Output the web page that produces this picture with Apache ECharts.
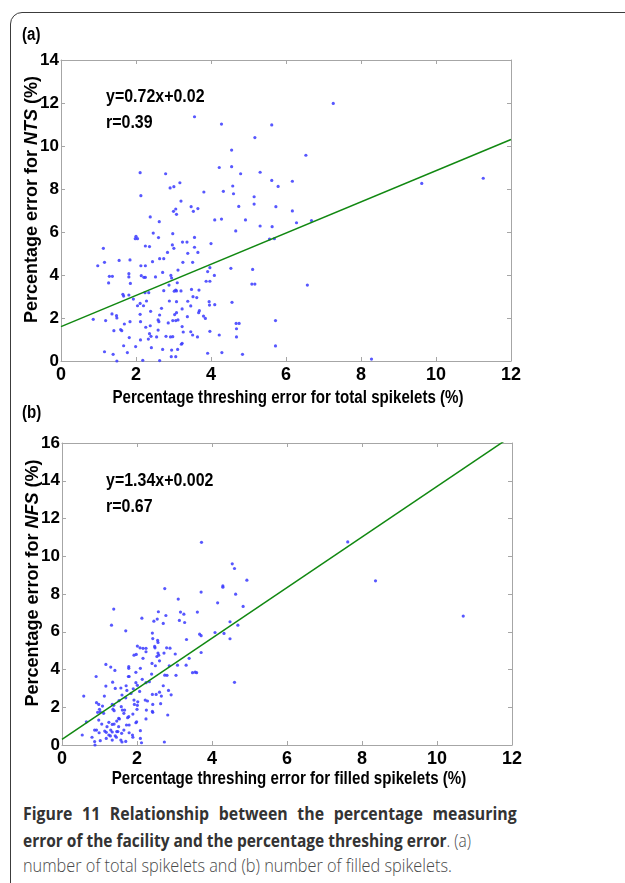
<!DOCTYPE html>
<html>
<head>
<meta charset="utf-8">
<script src="https://cdn.jsdelivr.net/npm/echarts@6/dist/echarts.min.js"></script>
<style>
  html, body { margin: 0; padding: 0; background: #fff; overflow: hidden; }
  .page { position: relative; width: 625px; height: 883px; overflow: hidden; }
  .frame {
    position: absolute; left: 10px; top: 12px; width: 700px; height: 1000px;
    border: 1.5px solid #3c3c3c; border-radius: 12px; box-sizing: border-box;
  }
  #chart { position: absolute; left: 0; top: 0; width: 625px; height: 800px; }
  .cap {
    position: absolute; left: 23px; font-family: 'Open Sans', sans-serif; font-size: 18px;
    white-space: nowrap; line-height: 24px; transform-origin: 0 0;
  }
  .cap b { color: #333; font-weight: bold; }
  .cap span { color: #4a4a4a; font-weight: 300; }
  .l1 { top: 801px; width: 561px; text-align: justify; text-align-last: justify; white-space: normal; transform: scaleX(0.88); }
  .l2 { top: 828px; transform: scaleX(0.86); }
  .l3 { top: 853px; transform: scaleX(0.905); }
</style>
</head>
<body>
<div class="page">
  <div class="frame"></div>
  <div id="chart"></div>
  <div class="cap l1"><b>Figure 11 Relationship between the percentage measuring</b></div>
  <div class="cap l2"><b>error of the facility and the percentage threshing error</b><span>. (a)</span></div>
  <div class="cap l3"><span>number of total spikelets and (b) number of filled spikelets.</span></div>
</div>
<script>
// (a) total spikelets: [threshing error %, NTS error %]
const pointsA = [
  [7.26,11.98],[3.56,11.36],[4.28,11.02],[5.62,10.98],[5.17,10.39],[4.55,9.81],[6.53,9.57],[4.22,9.0],[4.55,9.04],
  [2.11,8.76],[2.79,8.71],[4.79,8.71],[5.31,8.78],[3.17,8.29],[5.62,8.4],[6.17,8.36],[11.26,8.5],[9.62,8.26],
  [2.91,8.05],[3.01,8.11],[4.58,8.14],[5.79,8.12],[3.81,7.86],[4.33,7.89],[4.6,7.78],[2.13,7.69],[5.15,7.64],
  [3.2,7.44],[5.15,7.3],[3.47,7.18],[4.74,7.19],[5.73,7.18],[3.65,7.09],[3.06,7.07],[3.0,6.96],[3.53,6.96],
  [6.17,6.98],[3.08,6.82],[2.38,6.7],[6.68,6.53],[4.1,6.56],[4.28,6.6],[4.92,6.56],[2.62,6.48],[6.28,6.43],
  [4.66,6.05],[5.31,6.28],[5.63,6.25],[2.46,5.95],[2.98,5.92],[2.0,5.8],[2.04,5.69],[1.98,5.69],[2.6,5.74],
  [3.56,5.75],[5.56,5.67],[5.69,5.69],[1.13,5.24],[2.25,5.35],[2.36,5.32],[2.97,5.4],[3.24,5.53],[3.36,5.53],
  [3.56,5.29],[3.01,5.24],[4.0,5.46],[2.84,5.05],[3.65,5.05],[3.38,5.01],[1.16,4.59],[1.55,4.68],[1.84,4.7],
  [2.63,4.76],[2.74,4.76],[2.44,4.62],[3.25,4.59],[3.51,4.59],[0.98,4.43],[2.13,4.43],[2.25,4.43],[3.97,4.34],
  [4.53,4.31],[5.11,4.26],[3.12,4.23],[2.71,4.12],[3.91,4.16],[1.81,4.06],[1.29,3.94],[1.37,3.94],[1.81,3.91],
  [2.14,3.97],[2.21,3.89],[2.25,3.89],[2.52,3.91],[2.93,3.98],[2.95,3.86],[4.09,3.98],[1.27,3.63],[1.85,3.61],
  [2.88,3.53],[3.1,3.64],[3.87,3.71],[3.97,3.71],[5.09,3.58],[5.17,3.58],[6.57,3.53],[3.48,3.33],[3.68,3.3],
  [2.74,3.27],[3.02,3.25],[3.06,3.3],[3.08,3.26],[3.2,3.26],[2.24,3.18],[2.34,3.18],[1.65,3.1],[1.67,3.02],
  [1.81,3.07],[3.52,2.99],[3.62,2.95],[1.93,2.88],[2.89,2.79],[2.28,2.79],[3.08,2.76],[3.38,2.78],[3.95,2.76],
  [4.56,2.73],[2.11,2.68],[3.96,2.6],[4.1,2.62],[2.04,2.57],[2.2,2.57],[3.46,2.56],[2.68,2.45],[3.23,2.42],
  [3.69,2.34],[2.39,2.31],[3.67,2.25],[3.08,2.25],[3.03,2.16],[1.36,2.19],[1.48,2.11],[1.49,2.0],[2.11,2.17],
  [2.63,2.14],[3.37,2.06],[3.8,2.09],[3.85,1.98],[0.86,1.94],[1.19,1.88],[1.84,1.83],[2.12,1.83],[2.59,1.91],
  [2.61,1.83],[2.98,1.88],[3.06,1.88],[3.12,1.91],[5.72,1.88],[2.86,1.77],[1.69,1.72],[4.67,1.75],[4.75,1.75],
  [2.38,1.64],[2.26,1.57],[3.23,1.6],[1.59,1.46],[1.62,1.41],[1.41,1.41],[3.46,1.36],[3.97,1.38],[4.68,1.5],
  [2.36,1.27],[3.26,1.35],[2.59,1.44],[4.22,1.21],[2.8,1.15],[2.92,1.12],[2.98,1.13],[3.51,1.21],[3.64,1.12],
  [1.82,1.09],[2.4,1.15],[2.55,1.12],[4.68,1.12],[2.33,1.02],[2.12,0.98],[3.23,0.82],[3.21,0.78],[1.99,0.67],
  [1.67,0.71],[2.41,0.62],[2.71,0.54],[3.11,0.54],[2.95,0.51],[5.72,0.7],[1.16,0.43],[1.77,0.39],[1.39,0.31],
  [3.91,0.36],[4.29,0.39],[4.84,0.31],[2.94,0.2],[3.06,0.2],[8.28,0.09],[2.18,0.03],[2.63,0.02],[1.49,0.0]
];

// (b) filled spikelets: [threshing error %, NFS error %]
const pointsB = [
  [7.62,10.76],[3.72,10.74],[4.54,9.6],[4.6,9.35],[4.93,8.73],[8.36,8.7],[4.29,8.43],[4.29,8.36],[2.74,8.29],
  [3.71,8.1],[4.63,7.99],[3.1,7.73],[4.15,7.53],[4.83,7.34],[1.38,7.2],[2.57,7.06],[3.16,7.04],[3.61,7.04],
  [3.25,6.93],[2.77,6.86],[10.7,6.83],[1.32,6.35],[2.13,6.72],[2.54,6.67],[2.45,6.56],[2.7,6.44],[3.13,6.6],
  [3.27,6.49],[4.48,6.53],[4.69,6.35],[1.7,6.05],[4.08,5.96],[4.32,5.91],[2.41,5.93],[3.67,5.87],[3.71,5.79],
  [2.42,5.64],[3.32,5.59],[4.48,5.63],[2.55,5.54],[2.56,5.43],[2.47,5.22],[2.48,5.15],[2.01,5.24],[2.08,5.15],
  [2.16,5.12],[2.24,5.12],[2.79,5.15],[2.88,5.13],[2.56,4.87],[2.58,4.76],[2.53,4.69],[2.72,4.87],[3.02,4.82],
  [1.98,4.8],[1.92,4.76],[2.24,4.94],[3.71,4.9],[2.16,4.59],[3.39,4.59],[2.4,4.32],[2.49,4.2],[2.6,4.46],
  [1.78,4.15],[1.78,4.06],[2.09,4.06],[1.17,4.27],[1.3,4.13],[1.41,3.95],[2.86,4.2],[3.08,4.23],[3.31,4.23],
  [3.48,3.83],[3.55,3.86],[3.59,3.83],[1.97,3.85],[2.39,3.76],[2.14,3.48],[2.74,3.7],[2.8,3.69],[3.04,3.69],
  [0.91,3.63],[1.77,3.63],[1.79,3.63],[2.33,3.35],[2.24,3.3],[1.97,3.3],[2.01,3.16],[1.35,3.33],[1.71,3.14],
  [2.7,3.14],[1.17,3.12],[1.57,3.02],[1.9,2.98],[1.73,2.89],[1.42,3.0],[2.07,2.84],[2.84,2.89],[2.6,2.8],
  [1.84,2.73],[1.13,2.59],[0.58,2.59],[1.6,2.65],[2.41,2.68],[2.51,2.68],[2.91,2.66],[2.65,2.59],[1.7,2.5],
  [1.92,2.38],[2.22,2.38],[1.52,2.35],[2.02,2.29],[1.93,2.15],[2.01,2.1],[2.28,2.33],[2.42,2.15],[2.63,2.19],
  [0.92,2.24],[0.98,2.15],[1.34,2.15],[1.38,2.1],[1.58,2.03],[1.08,2.06],[1.0,1.89],[1.36,1.9],[1.39,1.82],
  [1.61,1.85],[1.67,1.85],[2.0,1.89],[2.25,1.85],[2.41,1.78],[2.42,1.73],[0.95,1.73],[1.02,1.76],[1.65,1.68],
  [1.89,1.64],[1.11,1.68],[2.82,1.59],[1.78,1.5],[1.75,1.45],[1.51,1.41],[1.53,1.38],[2.24,1.38],[0.98,1.32],
  [1.46,1.27],[1.99,1.23],[1.97,1.18],[0.65,1.23],[1.25,1.2],[1.06,1.11],[1.34,1.09],[1.39,1.11],[1.72,1.06],
  [1.79,1.06],[1.51,0.97],[1.2,0.97],[0.87,0.79],[0.92,0.79],[1.14,0.74],[1.18,0.67],[1.3,0.79],[1.34,0.69],
  [1.46,0.71],[1.49,0.71],[1.65,0.79],[1.79,0.65],[2.09,0.76],[1.59,0.62],[0.99,0.65],[0.54,0.53],[1.25,0.53],
  [1.29,0.48],[1.42,0.49],[1.45,0.41],[1.88,0.53],[1.89,0.41],[0.8,0.41],[1.18,0.35],[1.57,0.26],[1.6,0.16],
  [1.02,0.23],[1.34,0.26],[1.7,0.19],[2.09,0.35],[2.12,0.12],[0.87,0.18],[0.88,0.0],[2.73,0.16],[4.6,3.32]
];

// fitted lines as drawn (end points)
const fitA = [[0, 1.6], [12, 10.3]];
const fitB = [[0, 0.3], [12, 16.38]];

const xTicks = [0, 2, 4, 6, 8, 10, 12];
const yMaxA = 14;
const yMaxB = 16;

const FONT = '"Liberation Sans", Arial, Helvetica, sans-serif';
const BOX = '#a6a6a6';
const SQUEEZE = 0.84; // the source figure is slightly narrower than tall

const chart = echarts.init(document.getElementById('chart'), null, { renderer: 'canvas' });

function mainX(grid) {
  return {
    gridIndex: grid, type: 'value', position: 'bottom',
    min: xTicks[0], max: xTicks[xTicks.length - 1], interval: 2,
    axisLine: { show: true, onZero: false, lineStyle: { color: BOX, width: 1 } },
    axisTick: { show: true, inside: true, length: 4, lineStyle: { color: BOX } },
    axisLabel: { color: '#000', fontFamily: FONT, fontWeight: 'bold', fontSize: 18, margin: 5 },
    splitLine: { show: false }
  };
}
function mirrorX(grid) {
  return {
    gridIndex: grid, type: 'value', position: 'top',
    min: xTicks[0], max: xTicks[xTicks.length - 1], interval: 2,
    axisLine: { show: true, onZero: false, lineStyle: { color: BOX, width: 1 } },
    axisTick: { show: true, inside: true, length: 4, lineStyle: { color: BOX } },
    axisLabel: { show: false }, splitLine: { show: false }
  };
}
function mainY(grid, max, abbr) {
  return {
    gridIndex: grid, type: 'value', position: 'left',
    min: 0, max: max, interval: 2,
    axisLine: { show: true, onZero: false, lineStyle: { color: BOX, width: 1 } },
    axisTick: { show: true, inside: true, length: 4, lineStyle: { color: BOX } },
    axisLabel: { color: '#000', fontFamily: FONT, fontWeight: 'bold', fontSize: 17, margin: 2 },
    splitLine: { show: false },
    name: '{n|Percentage error for }{i|' + abbr + '}{n| (%)}',
    nameLocation: 'middle', nameGap: 20, nameRotate: 90, nameMoveOverlap: false,
    nameTextStyle: {
      padding: [0, 0, 0, 22],
      rich: {
        n: { color: '#000', fontFamily: FONT, fontWeight: 'bold', fontSize: 18 },
        i: { color: '#000', fontFamily: FONT, fontWeight: 'bold', fontStyle: 'italic', fontSize: 18 }
      }
    }
  };
}
function mirrorY(grid, max) {
  return {
    gridIndex: grid, type: 'value', position: 'right',
    min: 0, max: max, interval: 2,
    axisLine: { show: true, onZero: false, lineStyle: { color: BOX, width: 1 } },
    axisTick: { show: true, inside: true, length: 4, lineStyle: { color: BOX } },
    axisLabel: { show: false }, splitLine: { show: false }
  };
}

// squeezed text, anchored at (x, y)
function txt(x, y, text, size, align) {
  return {
    type: 'text', x: x, y: y, scaleX: SQUEEZE,
    style: {
      text: text, fill: '#000', font: 'bold ' + size + 'px ' + FONT,
      align: align || 'left', verticalAlign: 'middle'
    }
  };
}

const option = {
  animation: false,
  backgroundColor: 'transparent',
  grid: [
    { left: 61, top: 60, width: 450, height: 301, containLabel: false },
    { left: 62, top: 443, width: 450, height: 302, containLabel: false }
  ],
  xAxis: [mainX(0), mirrorX(0), mainX(1), mirrorX(1)],
  yAxis: [
    mainY(0, yMaxA, 'NTS'), mirrorY(0, yMaxA),
    mainY(1, yMaxB, 'NFS'), mirrorY(1, yMaxB)
  ],
  graphic: [
    txt(22, 35, '(a)', 18),
    txt(22, 413, '(b)', 18),
    txt(106, 97, 'y=0.72x+0.02', 19),
    txt(106, 123, 'r=0.39', 19),
    txt(106, 481, 'y=1.34x+0.002', 19),
    txt(106, 507, 'r=0.67', 19),
    txt(288, 398, 'Percentage threshing error for total spikelets (%)', 18, 'center'),
    txt(289, 779, 'Percentage threshing error for filled spikelets (%)', 18, 'center')
  ],
  series: [
    {
      type: 'scatter', xAxisIndex: 0, yAxisIndex: 0, data: pointsA,
      symbol: 'circle', symbolSize: 3.2, itemStyle: { color: '#3a3aff', opacity: 0.85 }
    },
    {
      type: 'line', xAxisIndex: 0, yAxisIndex: 0, data: fitA, showSymbol: false,
      lineStyle: { color: '#118811', width: 1.5 }
    },
    {
      type: 'scatter', xAxisIndex: 2, yAxisIndex: 2, data: pointsB,
      symbol: 'circle', symbolSize: 3.2, itemStyle: { color: '#3a3aff', opacity: 0.85 }
    },
    {
      type: 'line', xAxisIndex: 2, yAxisIndex: 2, data: fitB, showSymbol: false, clip: true,
      lineStyle: { color: '#118811', width: 1.5 }
    }
  ]
};

chart.setOption(option);
</script>
</body>
</html>
